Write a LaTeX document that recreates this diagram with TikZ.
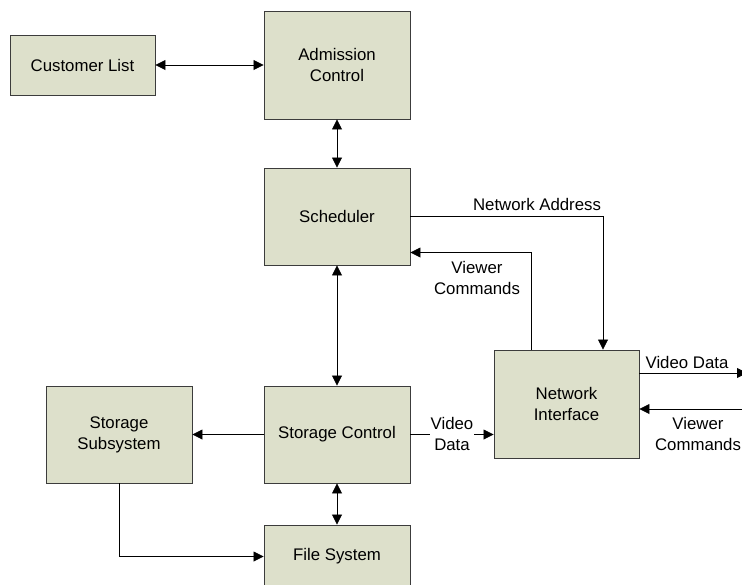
\documentclass[tikz,border=0pt]{standalone}
\usepackage{fontspec}
\setmainfont{Liberation Sans}
\usetikzlibrary{arrows.meta}
\definecolor{boxfill}{RGB}{221,224,203}
\definecolor{boxline}{RGB}{60,60,60}
\begin{document}
\begin{tikzpicture}[x=1pt,y=-1pt,
  font=\fontsize{16.8}{21}\selectfont,
  box/.style={draw=boxline,line width=0.9pt,fill=boxfill,align=center,inner sep=0pt},
  conn/.style={draw=black,line width=0.8pt},
  tip/.style={-{Triangle[length=10pt,width=10pt]}},
  tips/.style={{Triangle[length=10pt,width=10pt]}-{Triangle[length=10pt,width=10pt]}},
  lbl/.style={align=center,inner sep=1pt}]
\clip (0,0) rectangle (742,584);
\fill[white] (0,0) rectangle (742,584);
\node[box,minimum width=145pt,minimum height=60pt] (cust) at (82.5,65) {Customer List};
\node[box,minimum width=146pt,minimum height=108pt] (adm) at (337,65) {Admission\\Control};
\node[box,minimum width=146pt,minimum height=97pt] (sched) at (337,216.5) {Scheduler};
\node[box,minimum width=146pt,minimum height=97pt] (stctl) at (337,434.5) {Storage Control};
\node[box,minimum width=146pt,minimum height=97pt] (stsub) at (119,434.5) {Storage\\Subsystem};
\node[box,minimum width=146pt,minimum height=63pt] (fs) at (337,556.5) {File System};
\node[box,minimum width=145pt,minimum height=108pt] (ni) at (566.5,404) {Network\\Interface};
\coordinate (vdout) at (747,373);
\coordinate (vcin) at (747,409);
\draw[conn,tips] (cust) -- (adm);
\draw[conn,tips] (adm) -- (sched);
\draw[conn,tips] (sched) -- (stctl);
\draw[conn,tips] (stctl) -- (fs);
\draw[conn,tip] (stctl) -- (stsub);
\draw[conn,tip] (stsub.south) |- (fs.west);
\draw[conn,tip] (stctl.east) -- (stctl.east -| ni.west);
\draw[conn,tip] (sched.east) -| ([xshift=36.5pt]ni.north);
\draw[conn,tip] ([xshift=-35.5pt]ni.north) |- ([yshift=-36pt]sched.east);
\draw[conn,tip] (vdout -| ni.east) -- (vdout);
\draw[conn,tip] (vcin) -- (vcin -| ni.east);
\node[lbl] (lna) at (537,204) {Network Address};
\node[lbl] (lvc1) at (477,278) {Viewer\\Commands};
\node[lbl,fill=white] (lvd1) at (452,434) {Video\\Data};
\node[lbl] (lvd2) at (687,362) {Video Data};
\node[lbl] (lvc2) at (698,434) {Viewer\\Commands};
\end{tikzpicture}
\end{document}
